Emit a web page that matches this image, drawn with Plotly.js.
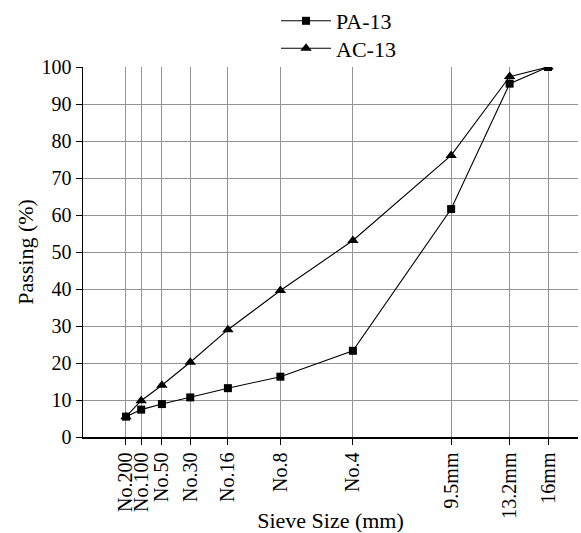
<!DOCTYPE html>
<html>
<head>
<meta charset="utf-8">
<script src="https://cdn.plot.ly/plotly-3.0.1.min.js"></script>
<style>html,body{margin:0;padding:0;background:#fff;}#chart{width:581px;height:533px;}</style>
</head>
<body>
<div id="chart"></div>
<script>
const sieveSizes = [0.075, 0.15, 0.3, 0.6, 1.18, 2.36, 4.75, 9.5, 13.2, 16];
const sieveLabels = ['No.200', 'No.100', 'No.50', 'No.30', 'No.16', 'No.8', 'No.4', '9.5mm', '13.2mm', '16mm'];
const pa13 = [5.5, 7.4, 8.9, 10.7, 13.2, 16.3, 23.3, 61.6, 95.5, 100];
const ac13 = [5.5, 9.8, 14.0, 20.2, 29.0, 39.6, 53.1, 76.1, 97.4, 100];
const yTicks = [0, 10, 20, 30, 40, 50, 60, 70, 80, 90, 100];

const POWER = 0.45;
const xs = sieveSizes.map(s => Math.pow(s, POWER));

const font = {family: 'Liberation Serif, Times New Roman, serif', color: '#000'};

const traces = [
  {x: xs, y: pa13, name: 'PA-13', type: 'scatter', mode: 'lines+markers', legend: 'legend',
   line: {color: '#000', width: 1.1}, marker: {symbol: 'square', size: 8, color: '#000'}},
  {x: xs, y: ac13, name: 'AC-13', type: 'scatter', mode: 'lines+markers', legend: 'legend2',
   line: {color: '#000', width: 1.1}, marker: {symbol: 'triangle-up', size: 10, color: '#000'}}
];

const legendBase = {x: 0.39, xanchor: 'left', xref: 'paper', yanchor: 'middle', yref: 'container',
                    font: Object.assign({size: 22}, font), itemwidth: 50, bgcolor: 'rgba(0,0,0,0)'};

const layout = {
  width: 581, height: 533,
  margin: {l: 83, r: 3, t: 67, b: 96, autoexpand: false},
  paper_bgcolor: '#fff', plot_bgcolor: '#fff',
  font: Object.assign({size: 20}, font),
  showlegend: true,
  legend: Object.assign({}, legendBase, {y: 1 - 21 / 533}),
  legend2: Object.assign({}, legendBase, {y: 1 - 48.5 / 533}),
  xaxis: {
    range: [-0.011, 3.707], tickmode: 'array', tickvals: xs, ticktext: sieveLabels,
    tickangle: -90, ticks: 'outside', ticklen: 6, tickcolor: '#000',
    showgrid: true, gridcolor: '#949494', gridwidth: 1,
    showline: true, linecolor: '#000', linewidth: 1.5, zeroline: false,
    tickfont: Object.assign({size: 20}, font),
    title: {text: 'Sieve Size (mm)', font: Object.assign({size: 22}, font), standoff: 2}
  },
  yaxis: {
    range: [0, 100], tickmode: 'array', tickvals: yTicks,
    ticks: 'outside', ticklen: 6, tickcolor: '#000',
    showgrid: true, gridcolor: '#949494', gridwidth: 1,
    showline: true, linecolor: '#000', linewidth: 1.5, zeroline: false,
    tickfont: Object.assign({size: 20}, font),
    title: {text: 'Passing (%)', font: Object.assign({size: 22}, font), standoff: 2}
  }
};

Plotly.newPlot('chart', traces, layout, {displayModeBar: false, staticPlot: true});
</script>
</body>
</html>
